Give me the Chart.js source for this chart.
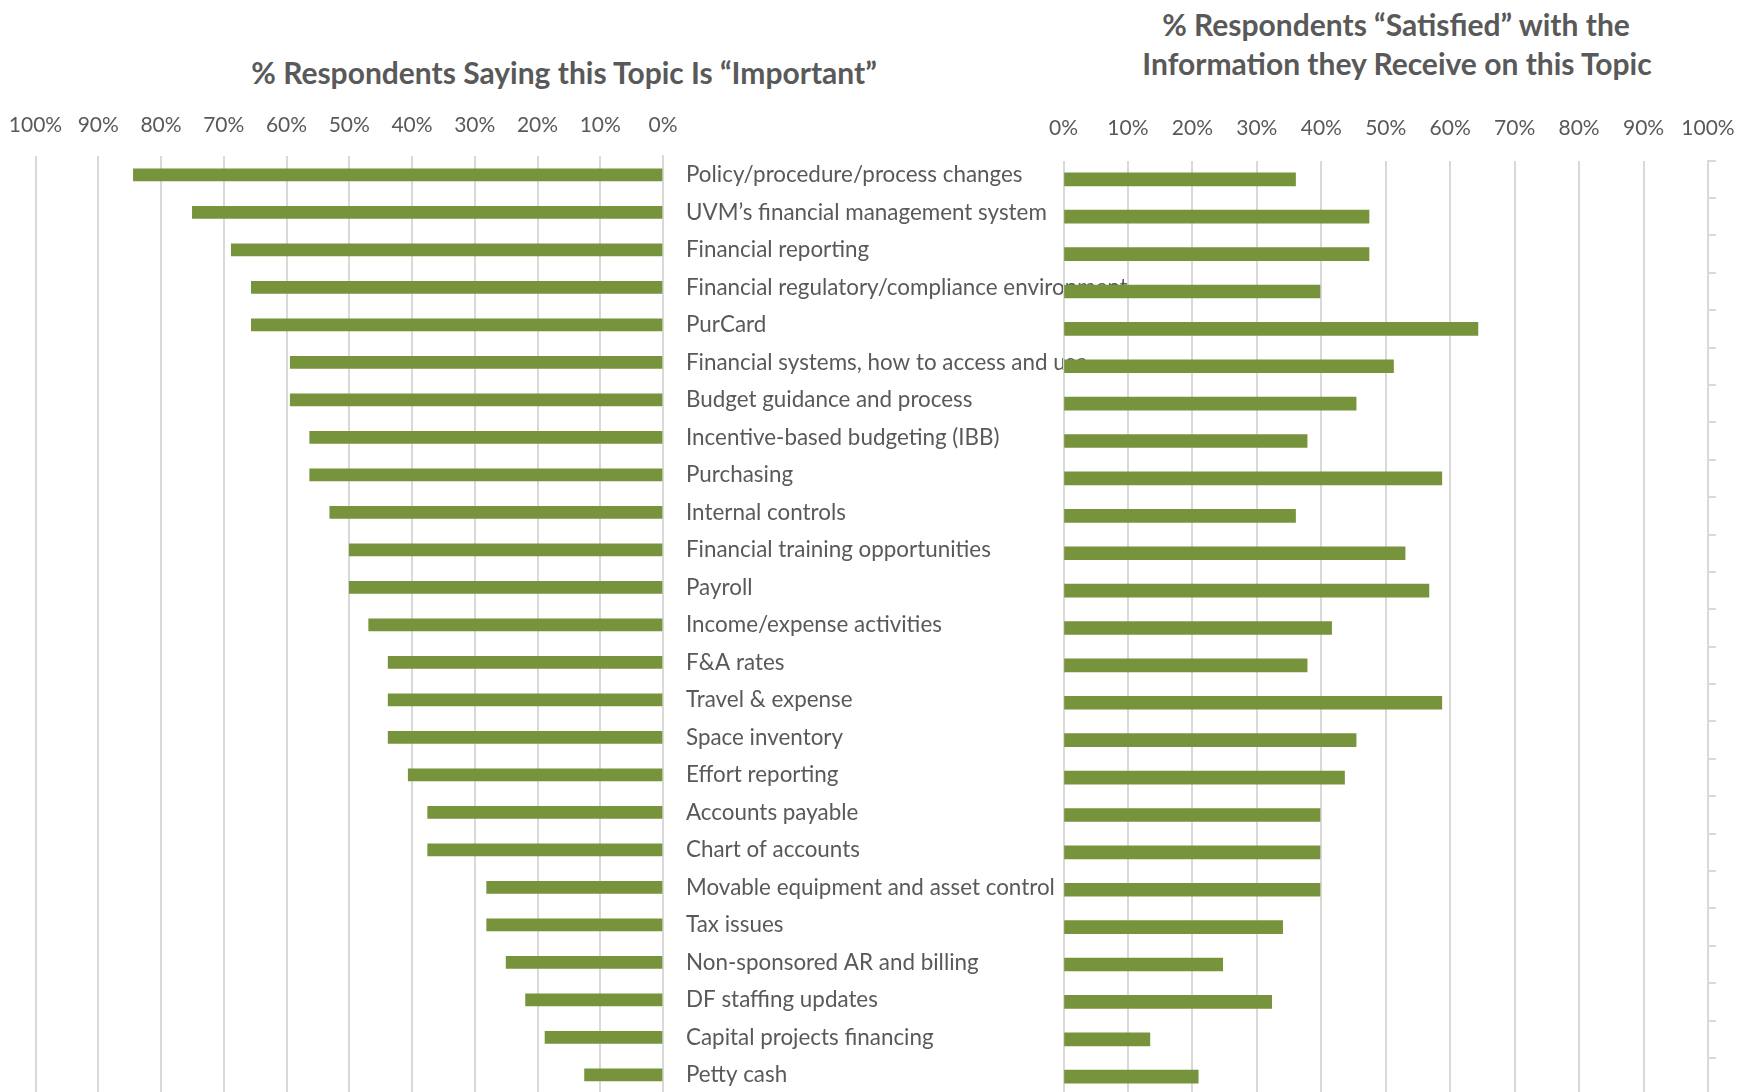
<!DOCTYPE html>
<html>
<head>
<meta charset="utf-8">
<script src="https://cdn.jsdelivr.net/npm/chart.js@4"></script>
<style>
html,body{margin:0;padding:0;background:#fff;overflow:hidden;width:1738px;height:1092px;}
#c1{position:absolute;left:0;top:0;}
#c2{position:absolute;left:1000px;top:0;}
.title{position:absolute;font-family:Lato,"Open Sans",sans-serif;font-weight:bold;color:#595959;font-size:30px;white-space:nowrap;transform:translate(-50%,-50%);line-height:1;}
</style>
</head>
<body>
<div class="title" style="left:564px;top:72px">% Respondents Saying this Topic Is “Important”</div>
<div class="title" style="left:1396px;top:24px">% Respondents “Satisfied” with the</div>
<div class="title" style="left:1397px;top:63px">Information they Receive on this Topic</div>
<canvas id="c1" width="1200" height="1107" style="width:1200px;height:1107px"></canvas>
<canvas id="c2" width="738" height="1100" style="width:738px;height:1100px"></canvas>
<script>
const categories = [
  "Policy/procedure/process changes",
  "UVM’s financial management system",
  "Financial reporting",
  "Financial regulatory/compliance environment",
  "PurCard",
  "Financial systems, how to access and use",
  "Budget guidance and process",
  "Incentive-based budgeting (IBB)",
  "Purchasing",
  "Internal controls",
  "Financial training opportunities",
  "Payroll",
  "Income/expense activities",
  "F&A rates",
  "Travel & expense",
  "Space inventory",
  "Effort reporting",
  "Accounts payable",
  "Chart of accounts",
  "Movable equipment and asset control",
  "Tax issues",
  "Non-sponsored AR and billing",
  "DF staffing updates",
  "Capital projects financing",
  "Petty cash"
];
const importantPct = [84.4, 75.0, 68.8, 65.6, 65.6, 59.4, 59.4, 56.3, 56.3, 53.1, 50.0, 50.0, 46.9, 43.8, 43.8, 43.8, 40.6, 37.5, 37.5, 28.1, 28.1, 25.0, 21.9, 18.8, 12.5];
const satisfiedPct = [36.0, 47.4, 47.4, 39.8, 64.3, 51.2, 45.4, 37.8, 58.7, 36.0, 53.0, 56.7, 41.6, 37.8, 58.7, 45.4, 43.6, 39.8, 39.8, 39.8, 34.0, 24.7, 32.3, 13.4, 20.9];
const tickLabels = ["0%","10%","20%","30%","40%","50%","60%","70%","80%","90%","100%"];

const BAR = '#77933C';
const GRID = '#d9d9d9';
const TXT = '#595959';
const FONT = {family: 'Lato, "Open Sans", sans-serif', size: 21};
const CATFONT = {family: 'Lato, "Open Sans", sans-serif', size: 22.4};
const tickCb = v => tickLabels[Math.round(v / 10)];

new Chart(document.getElementById('c1'), {
  type: 'bar',
  data: {labels: categories, datasets: [{data: importantPct, backgroundColor: BAR, barThickness: 12}]},
  options: {
    responsive: false, animation: false, indexAxis: 'y',
    layout: {padding: {left: 35.5, top: 0, right: 0, bottom: 0}},
    plugins: {legend: {display: false}, tooltip: {enabled: false}},
    scales: {
      x: {
        position: 'top', reverse: true, min: 0, max: 100,
        ticks: {stepSize: 10, callback: tickCb, color: TXT, font: FONT, padding: 0, maxRotation: 0},
        grid: {color: GRID, lineWidth: 2, drawTicks: true, tickLength: 18.4, tickColor: 'rgba(0,0,0,0)'},
        border: {display: false},
        afterFit: s => { s.height = 156.2; }
      },
      y: {
        position: 'right',
        ticks: {color: TXT, font: CATFONT, padding: 0, autoSkip: false},
        grid: {display: true, drawOnChartArea: false, drawTicks: true, tickLength: 23, tickColor: 'rgba(0,0,0,0)'},
        border: {display: true, color: GRID, width: 2},
        afterFit: s => { s.width = 537; }
      }
    }
  }
});

new Chart(document.getElementById('c2'), {
  type: 'bar',
  data: {labels: categories, datasets: [{data: satisfiedPct, backgroundColor: BAR, barThickness: 13}]},
  options: {
    responsive: false, animation: false, indexAxis: 'y',
    layout: {padding: {left: 63.5, top: 0, right: 0, bottom: 4.6}},
    plugins: {legend: {display: false}, tooltip: {enabled: false}},
    scales: {
      x: {
        position: 'top', min: 0, max: 100,
        ticks: {stepSize: 10, callback: tickCb, color: TXT, font: FONT, padding: 0, maxRotation: 0},
        grid: {color: GRID, lineWidth: 2, drawTicks: true, tickLength: 19.4, tickColor: 'rgba(0,0,0,0)'},
        border: {display: false},
        afterFit: s => { s.height = 160.6; }
      },
      y: {
        position: 'right',
        ticks: {display: false},
        grid: {display: true, drawOnChartArea: false, drawTicks: true, tickLength: 8, tickColor: GRID, lineWidth: 2, offset: true},
        border: {display: true, color: GRID, width: 2},
        afterFit: s => { s.width = 30; }
      }
    }
  }
});
</script>
</body>
</html>
